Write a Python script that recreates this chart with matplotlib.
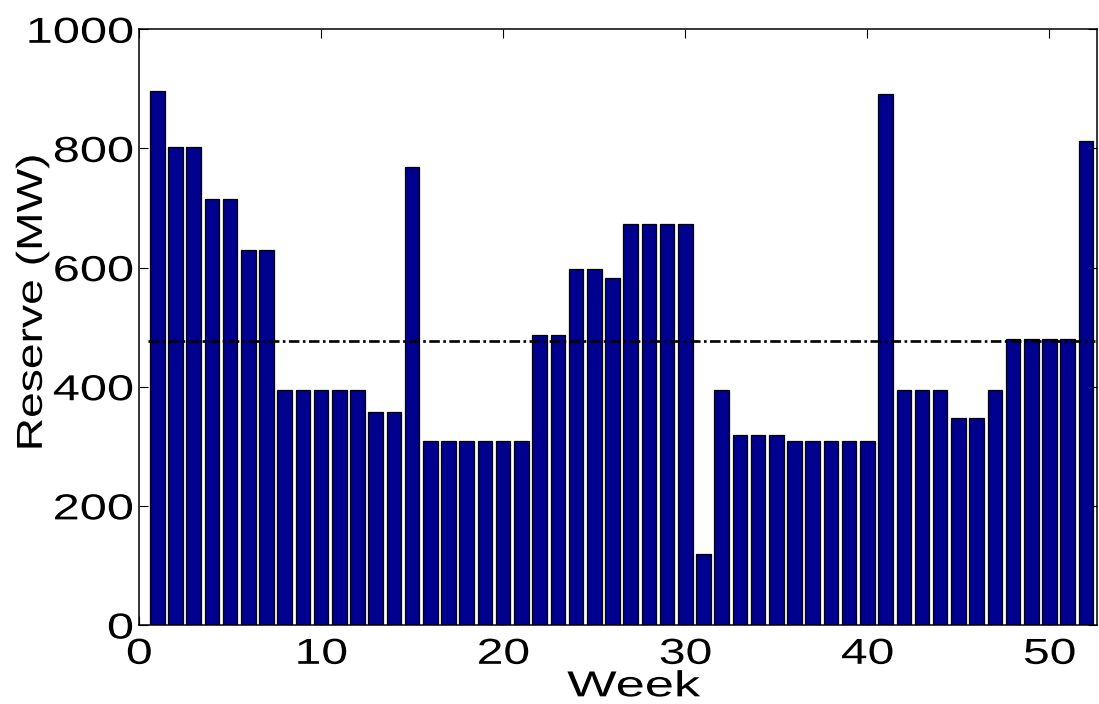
import matplotlib
matplotlib.use("Agg")
import matplotlib.pyplot as plt
from matplotlib.patheffects import AbstractPathEffect
from matplotlib.transforms import Affine2D

# Weekly reserve requirement (MW), weeks 1..52
weeks = list(range(1, 53))
reserve = [
    896, 803, 803, 715, 715, 630, 630,          # weeks 1-7
    395, 395, 395, 395, 395, 357, 357,          # weeks 8-14
    768, 309, 309, 309, 309, 309, 309,          # weeks 15-21
    486, 486, 597, 597, 583, 673, 673,          # weeks 22-28
    673, 673, 120, 395, 319, 319, 319,          # weeks 29-35
    309, 309, 309, 309, 309, 892, 395,          # weeks 36-42
    395, 395, 347, 347, 395, 480, 480,          # weeks 43-49
    480, 480, 813,                              # weeks 50-52
]
reserve_mean = 476
x_ticks = [0, 10, 20, 30, 40, 50]
y_ticks = [0, 200, 400, 600, 800, 1000]


class WideGlyphs(AbstractPathEffect):
    """Widen glyphs along the text direction, keeping one edge (or the centre) fixed."""

    def __init__(self, factor, anchor="left"):
        super().__init__()
        self.factor = factor
        self.anchor = anchor

    def draw_path(self, renderer, gc, tpath, affine, rgbFace=None):
        v = tpath.vertices
        c = 0.0
        if len(v):
            x0, x1 = v[:, 0].min(), v[:, 0].max()
            if self.anchor == "center":
                c = 0.5 * (x0 + x1)
            elif self.anchor == "right":
                c = x1
        widen = Affine2D().translate(-c, 0).scale(self.factor, 1.0).translate(c, 0)
        renderer.draw_path(gc, tpath, widen + affine, rgbFace)


plt.rcParams['font.family'] = ['Liberation Sans', 'DejaVu Sans']

fig = plt.figure(figsize=(10.99, 7.04), dpi=100)
ax = fig.add_axes([0.1265, 0.1122, 0.8715, 0.8462])

ax.bar(weeks, reserve, width=0.8, color='#00008F', edgecolor='black',
       linewidth=0.9, zorder=2)
ax.plot([0.5, 52.5], [reserve_mean, reserve_mean], color='black',
        linestyle=(0, (4.0, 1.3, 1.0, 1.3)), linewidth=1.9, zorder=3)

ax.set_xlim(0, 52.6)
ax.set_ylim(0, 1000)
ax.set_xticks(x_ticks)
ax.set_yticks(y_ticks)
ax.tick_params(direction='in', length=6.5, width=0.8, labelsize=26,
               top=True, right=True)
ax.tick_params(axis='x', pad=8.5)
ax.tick_params(axis='y', pad=4)
for s in ax.spines.values():
    s.set_linewidth(1.1)

for lab in ax.get_xticklabels():
    lab.set_path_effects([WideGlyphs(1.33, "center")])
for lab in ax.get_yticklabels():
    lab.set_path_effects([WideGlyphs(1.35, "right")])

xl = ax.set_xlabel('Week', fontsize=26, labelpad=-1.8)
yl = ax.set_ylabel('Reserve (MW)', fontsize=26, labelpad=2.5)
xl.set_x(0.4948)
yl.set_y(0.487)
xl.set_path_effects([WideGlyphs(1.45, "left")])
yl.set_path_effects([WideGlyphs(1.28, "left")])

fig.savefig('out.png', dpi=100)
